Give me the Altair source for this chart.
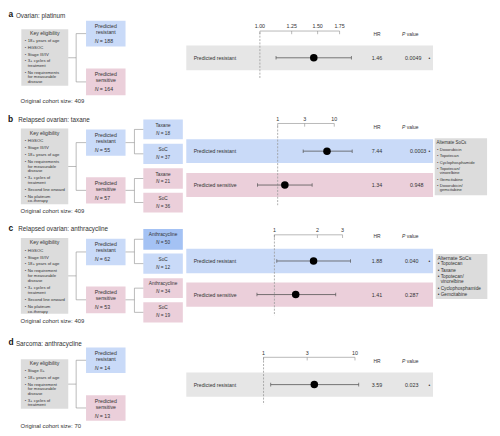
import altair as alt
import pandas as pd

# ====================== DATA ======================
panel_ids = ["a", "b", "c", "d"]
panel_titles = ["Ovarian: platinum", "Relapsed ovarian: taxane",
                "Relapsed ovarian: anthracycline", "Sarcoma: anthracycline"]
eligibility = [
    [["18+ years of age"], ["HGSOC"], ["Stage III/IV"], ["3+ cycles of", "treatment"],
     ["No requirements", "for measurable", "disease"]],
    [["HGSOC"], ["Stage III/IV"], ["18+ years of age"], ["No requirements", "for measurable", "disease"],
     ["3+ cycles of", "treatment"], ["Second line onward"], ["No platinum", "co-therapy"]],
    [["HGSOC"], ["Stage III/IV"], ["18+ years of age"], ["No requirement", "for measurable", "disease"],
     ["3+ cycles of", "treatment"], ["Second line onward"], ["No platinum", "co-therapy"]],
    [["Stage II+"], ["18+ years of age"], ["No requirement", "for measurable", "disease"],
     ["3+ cycles of", "treatment"]],
]
cohort_sizes = [409, 409, 409, 70]
n_resistant = [188, 55, 62, 14]
n_sensitive = [164, 57, 53, 13]
arm_drug = [None, "Taxane", "Anthracycline", None]
arm_n_resistant = [None, [18, 37], [50, 12], None]   # [drug, SoC]
arm_n_sensitive = [None, [21, 36], [34, 19], None]
row_groups = [["Predicted resistant"],
              ["Predicted resistant", "Predicted sensitive"],
              ["Predicted resistant", "Predicted sensitive"],
              ["Predicted resistant"]]
hr_values = [[1.46], [7.44, 1.34], [1.88, 1.41], [3.59]]
ci_low = [[1.12], [2.82, 0.44], [1.04, 0.755], [1.20]]
ci_high = [[1.90], [20.7, 4.06], [3.41, 2.69], [11.0]]
hr_labels = [["1.46"], ["7.44", "1.34"], ["1.88", "1.41"], ["3.59"]]
p_values = [["0.0049"], ["0.0003", "0.948"], ["0.040", "0.287"], ["0.023"]]
significant = [[True], [True, False], [True, False], [True]]
axis_ticks = [[1.0, 1.25, 1.5, 1.75], [1, 3, 10], [1, 2, 3], [1, 3, 10]]
axis_tick_labels = [["1.00", "1.25", "1.50", "1.75"], ["1", "3", "10"], ["1", "2", "3"], ["1", "3", "10"]]
alternate_socs = [
    None,
    [["Doxorubicin"], ["Topotecan"], ["Cyclophosphamide"], ["Topotecan/", "vinorelbine"],
     ["Gemcitabine"], ["Doxorubicin/", "gemcitabine"]],
    [["Topotecan"], ["Taxane"], ["Topotecan/", "vinorelbine"], ["Cyclophosphamide"], ["Gemcitabine"]],
    None,
]

# ====================== LAYOUT (page-pixel frame) ======================
W, H = 490, 424
X0, Y0 = 8, 8
FONT = "Liberation Sans"
INK = "#333333"
BLUE, BLUE_DARK, PINK = "#c9daf8", "#a4c2f4", "#ebcfda"
GREY_BOX, GREY_BAND = "#dcdcdc", "#e6e6e6"
LINE = "#8c8c8c"

layout = [
    dict(letter=(8.5, 11.5), title=(16, 13.5), key=(21.5, 69, 27, 84), key_title=31, bullet0=39,
         item_gap=6.8, wrap_gap=4.6, res=(18.3, 44.3), sens=(66.7, 93.7), arms_res=None, arms_sens=None,
         cohort_y=100, axis_y=28.7, label_y=24, dash=(30, 76.7), hdr_y=31.7, bands=[(43.3, 68.3)],
         px=(263, 343.7), pcol=410, altbox=None),
    dict(letter=(8, 117.5), title=(18.3, 118.5), key=(21, 69, 127.3, 204), key_title=131.7, bullet0=140,
         item_gap=7.2, wrap_gap=4.5, res=(128.3, 155), sens=(176.7, 203.3),
         arms_res=[(118.3, 138.3), (142.7, 163.3)], arms_sens=[(167.7, 188.3), (192.3, 212.3)],
         cohort_y=211, axis_y=122.3, label_y=117.7, dash=(125, 205), hdr_y=125.7,
         bands=[(138.3, 162.3), (172.5, 196.7)], px=(281, 338.3), pcol=415,
         altbox=(440, 493, 137.3, 195), alt_title=142.3, alt0=149, alt_gap=6.5, alt_wrap=4.3, alt_font=4.2),
    dict(letter=(8.5, 228.5), title=(18.3, 229.5), key=(21, 69, 238.3, 315), key_title=242.3, bullet0=251,
         item_gap=7.0, wrap_gap=5.0, res=(239, 265.7), sens=(287.3, 314.3),
         arms_res=[(229, 250), (254, 274.3)], arms_sens=[(279, 299), (303.3, 323.7)],
         cohort_y=322.3, axis_y=235, label_y=230, dash=(235, 316.7), hdr_y=236.7,
         bands=[(249, 274), (283.3, 307.7)], px=(277.7, 346.7), pcol=410,
         altbox=(441, 493.3, 254.3, 300), alt_title=258.3, alt0=265, alt_gap=6.5, alt_wrap=5.0, alt_font=4.8),
    dict(letter=(8.5, 343.5), title=(16, 345.3), key=(21, 69, 361, 411), key_title=365, bullet0=373.3,
         item_gap=6.7, wrap_gap=4.7, res=(349, 375), sens=(397.3, 423.3), arms_res=None, arms_sens=None,
         cohort_y=428.3, axis_y=359, label_y=354.3, dash=(359, 406.7), hdr_y=362.7,
         bands=[(374.3, 399)], px=(266.7, 359.3), pcol=410, altbox=None),
]

xs = alt.Scale(domain=[X0, X0 + W], range=[0, W], nice=False, zero=False)
ys = alt.Scale(domain=[Y0, Y0 + H], range=[0, H], nice=False, zero=False)

rects, segs, texts = [], [], []


def T(x, y, s, size, align="left", weight="normal", style="normal", color=INK):
    texts.append(dict(x=x, y=y, t=s, size=size, align=align, weight=weight, style=style, color=color))


def R(x, x2, y, y2, fill):
    rects.append(dict(x=x, x2=x2, y=y, y2=y2, fill=fill))


def S(x, x2, y, y2, color=LINE, w=0.6):
    segs.append(dict(x=x, x2=x2, y=y, y2=y2, color=color, w=w))


def n_label(xstart, y, n, size):
    T(xstart, y, "N", size, style="italic")
    T(xstart + size * 1.0, y, "= " + str(n), size)


def n_width(n, size):
    return size * (0.722 + 0.278 + 0.584 + 0.278 + 0.556 * len(str(n)))


forest_layers = []

for i, pid in enumerate(panel_ids):
    L = layout[i]
    T(L["letter"][0], L["letter"][1], pid, 8.5, weight="bold", color="#111111")
    T(L["title"][0], L["title"][1], panel_titles[i], 6.4)

    # key eligibility box
    kx, kx2, ky, ky2 = L["key"]
    R(kx, kx2, ky, ky2, GREY_BOX)
    T((kx + kx2) / 2, L["key_title"], "Key eligibility", 5.2, align="center")
    y = L["bullet0"]
    for item in eligibility[i]:
        T(25, y, "•", 4.2)
        for j, line in enumerate(item):
            T(28, y + j * L["wrap_gap"], line, 4.3)
        y += (len(item) - 1) * L["wrap_gap"] + L["item_gap"]

    # group boxes
    gx, gx2 = 87, 127
    for (top, bot), fill, word, n in [(L["res"], BLUE, "resistant", n_resistant[i]),
                                      (L["sens"], PINK, "sensitive", n_sensitive[i])]:
        R(gx, gx2, top, bot, fill)
        T((gx + gx2) / 2, top + 5.5, "Predicted", 5.3, align="center")
        T((gx + gx2) / 2, top + 11.7, word, 5.3, align="center")
        n_label(95.7, top + 21, n, 5.3)

    # connectors key -> groups
    rc = sum(L["res"]) / 2
    sc = sum(L["sens"]) / 2
    mid = (rc + sc) / 2
    S(kx2, 77, mid, mid)
    S(77, 77, rc, sc)
    S(77, gx, rc, rc)
    S(77, gx, sc, sc)

    # treatment arms
    if arm_drug[i] is not None:
        ax, ax2 = 145, 185
        for boxes, gcen, ns, base in [(L["arms_res"], rc, arm_n_resistant[i], BLUE),
                                      (L["arms_sens"], sc, arm_n_sensitive[i], PINK)]:
            c1 = sum(boxes[0]) / 2
            c2 = sum(boxes[1]) / 2
            S(gx2, 136, gcen, gcen)
            S(136, 136, c1, c2)
            S(136, ax, c1, c1)
            S(136, ax, c2, c2)
            for k, (name, n) in enumerate(zip([arm_drug[i], "SoC"], ns)):
                top, bot = boxes[k]
                fill = BLUE_DARK if (base == BLUE and k == 0 and arm_drug[i] == "Anthracycline") else base
                R(ax, ax2, top, bot, fill)
                T((ax + ax2) / 2, top + 6.3, name, 4.8, align="center")
                n_label((ax + ax2) / 2 - n_width(n, 4.8) / 2, top + 14.3, n, 4.8)

    T(20.7, L["cohort_y"], "Original cohort size: " + str(cohort_sizes[i]), 6.0)

    # result rows
    for k, grp in enumerate(row_groups[i]):
        top, bot = L["bands"][k]
        if arm_drug[i] is None:
            fill = GREY_BAND
        else:
            fill = BLUE if "resistant" in grp else PINK
        R(188.5, 438.3, top, bot, fill)
        yc = (top + bot) / 2
        T(196, yc, grp, 5.2)
        T(381.5, yc, hr_labels[i][k], 5.4, align="center")
        T(L["pcol"], yc, p_values[i][k], 5.4)
        if significant[i][k]:
            T(434.5, yc, "•", 5.0, align="center")

    T(381.5, L["hdr_y"], "HR", 5.0, align="center")
    T(407, L["hdr_y"], "P", 5.0, style="italic")
    T(407 + 5.0 * 0.95, L["hdr_y"], "value", 5.0)

    if alternate_socs[i] is not None:
        bx, bx2, by, by2 = L["altbox"]
        R(bx, bx2, by, by2, GREY_BOX)
        f = L["alt_font"]
        T(bx + 1.8, L["alt_title"], "Alternate SoCs", f + 0.3)
        y = L["alt0"]
        for item in alternate_socs[i]:
            T(bx + 2.2, y, "•", f)
            for j, line in enumerate(item):
                T(bx + 5.0, y + j * L["alt_wrap"], line, f)
            y += (len(item) - 1) * L["alt_wrap"] + L["alt_gap"]

    # ---------- forest plot (log scale, own x scale) ----------
    fx = alt.Scale(type="log", domain=[axis_ticks[i][0], axis_ticks[i][-1]],
                   range=[L["px"][0] - X0, L["px"][1] - X0], nice=False)
    rows = pd.DataFrame(dict(hr=hr_values[i], lo=ci_low[i], hi=ci_high[i],
                             y=[sum(b) / 2 for b in L["bands"]]))
    caps = pd.DataFrame(dict(v=ci_low[i] + ci_high[i],
                             y=[sum(b) / 2 for b in L["bands"]] * 2))
    ticks = pd.DataFrame(dict(v=axis_ticks[i], lab=axis_tick_labels[i],
                              y=[L["axis_y"]] * len(axis_ticks[i]),
                              y2=[L["axis_y"] + 3.2] * len(axis_ticks[i]),
                              ly=[L["label_y"]] * len(axis_ticks[i])))
    axisline = pd.DataFrame(dict(v=[axis_ticks[i][0]], v2=[axis_ticks[i][-1]], y=[L["axis_y"]]))
    dash = pd.DataFrame(dict(v=[1.0], y=[L["dash"][0]], y2=[L["dash"][1]]))

    forest_layers += [
        alt.Chart(dash).mark_rule(color="#9a9a9a", strokeWidth=0.8, strokeDash=[2, 1.4]).encode(
            x=alt.X("v:Q", scale=fx, axis=None), y=alt.Y("y:Q", scale=ys, axis=None), y2="y2:Q"),
        alt.Chart(rows).mark_rule(color="#555555", strokeWidth=0.8).encode(
            x=alt.X("lo:Q", scale=fx, axis=None), x2="hi:Q", y=alt.Y("y:Q", scale=ys, axis=None)),
        alt.Chart(caps).mark_tick(orient="vertical", size=3.6, thickness=0.7, color="#555555", opacity=1).encode(
            x=alt.X("v:Q", scale=fx, axis=None), y=alt.Y("y:Q", scale=ys, axis=None)),
        alt.Chart(rows).mark_circle(size=58, color="#000000", opacity=1).encode(
            x=alt.X("hr:Q", scale=fx, axis=None), y=alt.Y("y:Q", scale=ys, axis=None)),
        alt.Chart(axisline).mark_rule(color="#8a8a8a", strokeWidth=0.6).encode(
            x=alt.X("v:Q", scale=fx, axis=None), x2="v2:Q", y=alt.Y("y:Q", scale=ys, axis=None)),
        alt.Chart(ticks).mark_rule(color="#8a8a8a", strokeWidth=0.6).encode(
            x=alt.X("v:Q", scale=fx, axis=None), y=alt.Y("y:Q", scale=ys, axis=None), y2="y2:Q"),
        alt.Chart(ticks).mark_text(font=FONT, fontSize=5.4, color=INK, align="center", baseline="middle").encode(
            x=alt.X("v:Q", scale=fx, axis=None), y=alt.Y("ly:Q", scale=ys, axis=None), text="lab:N"),
    ]

rect_df = pd.DataFrame(rects)
seg_df = pd.DataFrame(segs)
text_df = pd.DataFrame(texts)

layers = [
    alt.Chart(rect_df).mark_rect(stroke=None).encode(
        x=alt.X("x:Q", scale=xs, axis=None), x2="x2:Q",
        y=alt.Y("y:Q", scale=ys, axis=None), y2="y2:Q",
        color=alt.Color("fill:N", scale=None)),
    alt.Chart(seg_df).mark_rule().encode(
        x=alt.X("x:Q", scale=xs, axis=None), x2="x2:Q",
        y=alt.Y("y:Q", scale=ys, axis=None), y2="y2:Q",
        color=alt.Color("color:N", scale=None),
        strokeWidth=alt.StrokeWidth("w:Q", scale=None)),
]
layers += forest_layers

for (align, weight, style), g in text_df.groupby(["align", "weight", "style"]):
    layers.append(
        alt.Chart(g.reset_index(drop=True)).mark_text(
            font=FONT, align=align, baseline="middle", fontWeight=weight, fontStyle=style).encode(
            x=alt.X("x:Q", scale=xs, axis=None), y=alt.Y("y:Q", scale=ys, axis=None),
            text="t:N", size=alt.Size("size:Q", scale=None), color=alt.Color("color:N", scale=None)))

chart = alt.layer(*layers).resolve_scale(x="independent", y="independent").properties(
    width=W, height=H, padding=0, autosize=alt.AutoSizeParams(type="none"), background="white"
).configure_view(stroke=None)

chart.save("out.html", embed_options={"renderer": "svg", "actions": False})
